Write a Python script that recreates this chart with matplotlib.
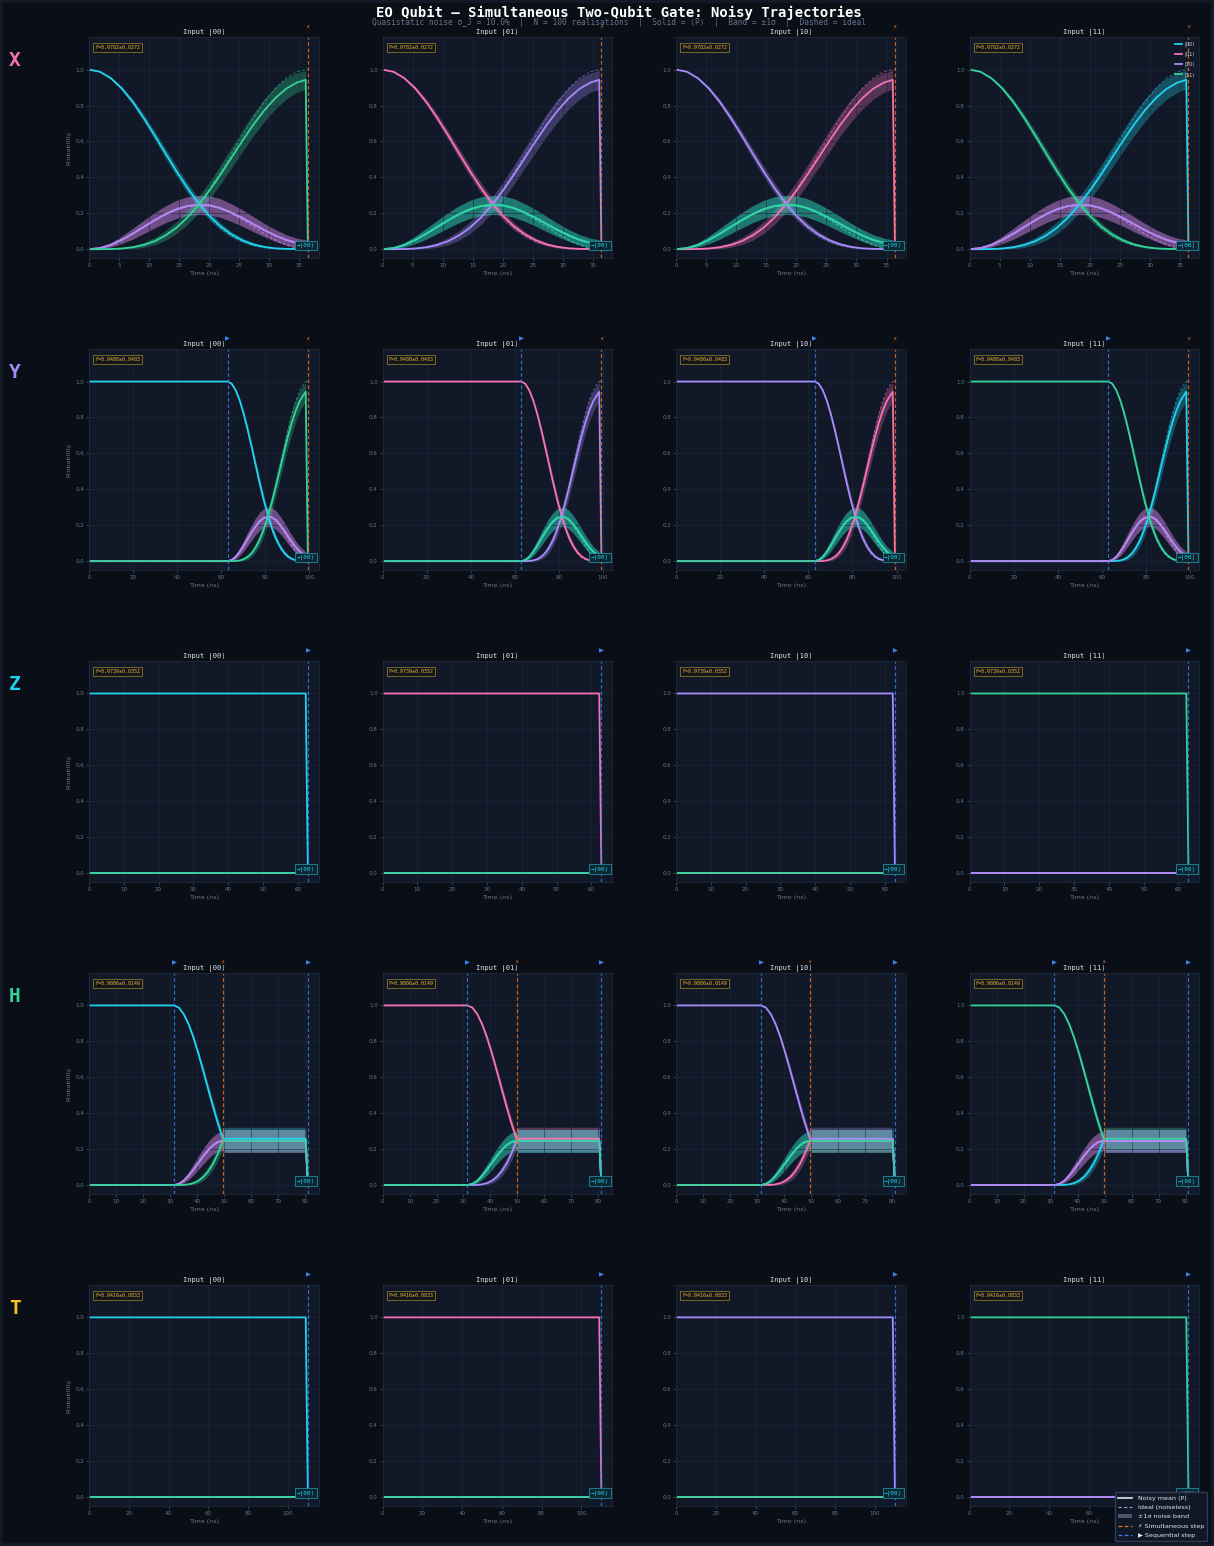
import matplotlib
matplotlib.use("Agg")
import matplotlib.pyplot as plt
import matplotlib.transforms as mtransforms
from matplotlib.lines import Line2D
from matplotlib.patches import Patch

MONO = ["DejaVu Sans Mono", "DejaVu Sans", "Noto Sans"]
SANS = ["DejaVu Sans", "Noto Sans"]
plt.rcParams["font.family"] = SANS

FIG_BG = "#0a0e17"
AX_BG = "#111827"
GRID = "#1e293b"
MUTED = "#64748b"
SIM_COLOR = "#f97316"
SEQ_COLOR = "#3b82f6"

# ---- basis states and gates -------------------------------------------------
STATES = ["00", "01", "10", "11"]
STATE_COLORS = ["#22d3ee", "#f472b6", "#a78bfa", "#34d399"]

GATES = ["X", "Y", "Z", "H", "T"]
GATE_COLORS = ["#f472b6", "#a78bfa", "#22d3ee", "#34d399", "#fbbf24"]
FID_MEAN = [0.9782, 0.9480, 0.9739, 0.9806, 0.9416]
FID_STD = [0.0272, 0.0483, 0.0352, 0.0149, 0.0833]

# pulse schedules: (step kind, duration ns, fraction of a pi rotation, sigma of held populations)
X_STEPS = [("sim", 36.4, 1.0, 0.0)]
Y_STEPS = [("seq", 62.9, 0.0, 0.0), ("sim", 36.4, 1.0, 0.0)]
Z_STEPS = [("seq", 62.9, 0.0, 0.0)]
H_STEPS = [("seq", 31.45, 0.0, 0.0), ("sim", 18.2, 0.5, 0.0), ("seq", 31.45, 0.0, 0.064)]
T_STEPS = [("seq", 110.1, 0.0, 0.0)]
GATE_STEPS = [X_STEPS, Y_STEPS, Z_STEPS, H_STEPS, T_STEPS]

# simultaneous rotation: populations vs. fraction of the pi rotation
ROT_FRAC = [0.00, 0.05, 0.10, 0.15, 0.20, 0.25, 0.30, 0.35, 0.40, 0.45, 0.50,
            0.55, 0.60, 0.65, 0.70, 0.75, 0.80, 0.85, 0.90, 0.95, 1.00]
# input state kept
STAY_IDEAL = [1.000, 0.988, 0.952, 0.894, 0.818, 0.729, 0.630, 0.529, 0.428, 0.334, 0.250,
              0.178, 0.119, 0.075, 0.042, 0.021, 0.009, 0.003, 0.001, 0.000, 0.000]
STAY_MEAN = [1.000, 0.988, 0.952, 0.895, 0.820, 0.731, 0.634, 0.533, 0.434, 0.341, 0.258,
             0.186, 0.128, 0.083, 0.050, 0.027, 0.013, 0.005, 0.002, 0.001, 0.001]
STAY_STD = [0.000, 0.002, 0.006, 0.011, 0.016, 0.021, 0.025, 0.028, 0.029, 0.029, 0.027,
            0.024, 0.020, 0.016, 0.012, 0.009, 0.006, 0.004, 0.002, 0.001, 0.001]
# one qubit flipped
ONE_IDEAL = [0.000, 0.006, 0.024, 0.052, 0.086, 0.125, 0.164, 0.198, 0.226, 0.244, 0.250,
             0.244, 0.226, 0.198, 0.164, 0.125, 0.086, 0.052, 0.024, 0.006, 0.000]
ONE_MEAN = [0.000, 0.006, 0.024, 0.052, 0.086, 0.124, 0.161, 0.195, 0.222, 0.240, 0.246,
            0.244, 0.229, 0.204, 0.174, 0.140, 0.107, 0.077, 0.052, 0.035, 0.028]
ONE_STD = [0.000, 0.004, 0.012, 0.021, 0.030, 0.037, 0.043, 0.047, 0.050, 0.052, 0.053,
           0.053, 0.052, 0.049, 0.046, 0.042, 0.037, 0.033, 0.029, 0.026, 0.024]
# both qubits flipped
BOTH_IDEAL = [0.000, 0.000, 0.001, 0.003, 0.009, 0.021, 0.042, 0.075, 0.119, 0.178, 0.250,
              0.334, 0.428, 0.529, 0.630, 0.729, 0.818, 0.894, 0.952, 0.988, 1.000]
BOTH_MEAN = [0.000, 0.000, 0.001, 0.004, 0.011, 0.024, 0.045, 0.077, 0.120, 0.177, 0.246,
             0.326, 0.414, 0.508, 0.602, 0.692, 0.772, 0.840, 0.893, 0.928, 0.943]
BOTH_STD = [0.000, 0.000, 0.002, 0.005, 0.009, 0.014, 0.020, 0.027, 0.033, 0.039, 0.044,
            0.049, 0.053, 0.057, 0.060, 0.062, 0.063, 0.061, 0.058, 0.054, 0.052]

FINAL_LABEL = "→|00⟩"
LAST_SAMPLE_FRAC = 0.01   # spacing of the solver's last time sample

PROFILE_IDEAL = [STAY_IDEAL, ONE_IDEAL, BOTH_IDEAL]
PROFILE_MEAN = [STAY_MEAN, ONE_MEAN, BOTH_MEAN]
PROFILE_STD = [STAY_STD, ONE_STD, BOTH_STD]


def n_flips(a, b):
    return sum(x != y for x, y in zip(a, b))


def build_trajectory(steps, inp):
    times = []
    mean = {s: [] for s in STATES}
    std = {s: [] for s in STATES}
    ideal = {s: [] for s in STATES}
    cur_m = {s: (1.0 if s == inp else 0.0) for s in STATES}
    cur_i = dict(cur_m)
    t0 = 0.0
    step_ends = []
    for kind, dur, frac, sd in steps:
        if kind == "seq":
            for t in (t0, t0 + dur):
                times.append(t)
                for s in STATES:
                    mean[s].append(cur_m[s])
                    std[s].append(sd)
                    ideal[s].append(cur_i[s])
        else:
            idx = [k for k, f in enumerate(ROT_FRAC) if f <= frac + 1e-9]
            for k in idx:
                times.append(t0 + dur * ROT_FRAC[k] / frac)
                for s in STATES:
                    c = n_flips(inp, s)
                    mean[s].append(PROFILE_MEAN[c][k])
                    std[s].append(PROFILE_STD[c][k])
                    ideal[s].append(PROFILE_IDEAL[c][k])
            for s in STATES:
                cur_m[s] = mean[s][-1]
                cur_i[s] = ideal[s][-1]
        t0 += dur
        step_ends.append((kind, t0))
    t_end = t0
    times[-1] = t_end * (1 - LAST_SAMPLE_FRAC)
    return times, mean, std, ideal, step_ends, t_end


fig = plt.figure(figsize=(12.14, 15.46), dpi=100, facecolor=FIG_BG)
fig.patch.set_edgecolor("#131926")
fig.patch.set_linewidth(4)
gs = fig.add_gridspec(5, 4, left=0.0733, right=0.9880, top=0.9759, bottom=0.0259,
                      wspace=0.277, hspace=0.412)

for r, gate in enumerate(GATES):
    for c, inp in enumerate(STATES):
        ax = fig.add_subplot(gs[r, c])
        ax.set_facecolor(AX_BG)
        times, mean, std, ideal, step_ends, t_end = build_trajectory(GATE_STEPS[r], inp)

        for s, col in zip(STATES, STATE_COLORS):
            lo = [m - d for m, d in zip(mean[s], std[s])]
            hi = [m + d for m, d in zip(mean[s], std[s])]
            ax.fill_between(times, lo, hi, color=col, alpha=0.3, lw=0)
        for s, col in zip(STATES, STATE_COLORS):
            ax.plot(times + [t_end], ideal[s] + [ideal[s][-1]], color=col, lw=0.7,
                    ls=(0, (3, 2)), alpha=0.55)
        for s, col in zip(STATES, STATE_COLORS):
            ax.plot(times + [t_end], mean[s] + [0.0], color=col, lw=1.3,
                    label=f"|{s}⟩")

        trans = mtransforms.blended_transform_factory(ax.transData, ax.transAxes)
        for kind, t in step_ends:
            colr = SIM_COLOR if kind == "sim" else SEQ_COLOR
            ax.axvline(t, color=colr, ls=(0, (3, 2)), lw=0.9, alpha=0.8)
            ax.text(t, 1.035, "⚡" if kind == "sim" else "▶", transform=trans,
                    ha="center", va="bottom", fontsize=4.5, color=colr,
                    family=SANS, clip_on=False)

        ax.set_xlim(0, t_end * 1.05)
        ax.set_ylim(-0.05, 1.18)
        ax.set_yticks([0.0, 0.2, 0.4, 0.6, 0.8, 1.0])
        ax.grid(True, color=GRID, lw=0.5, alpha=0.8)
        for sp in ax.spines.values():
            sp.set_color("#1f2937")
            sp.set_linewidth(0.6)
        ax.tick_params(colors="#475569", labelcolor=MUTED, labelsize=4,
                       length=2, width=0.5, pad=1.5)
        ax.set_xlabel("Time (ns)", fontsize=4.6, color=MUTED, labelpad=2)
        if c == 0:
            ax.set_ylabel("Probability", fontsize=4.6, color=MUTED, labelpad=3)
        ax.set_title(f"Input |{inp}⟩", fontsize=5, color="#e2e8f0",
                     family=MONO, pad=2.5)

        ax.text(0.026, 0.965, f"F={FID_MEAN[r]:.4f}±{FID_STD[r]:.4f}",
                transform=ax.transAxes, ha="left", va="top", fontsize=3.6,
                color="#e3b341", family=MONO,
                bbox=dict(boxstyle="square,pad=0.35", fc="#14161a",
                          ec="#a3862a", lw=0.5))
        ax.text(0.985, 0.045, FINAL_LABEL, transform=ax.transAxes, ha="right",
                va="bottom", fontsize=4.3, color="#22d3ee", family=MONO,
                bbox=dict(boxstyle="square,pad=0.3", fc="#0f2530",
                          ec="#1b8ea3", lw=0.6))

        if r == 0 and c == 3:
            ax.legend(loc="upper right", fontsize=3.8, frameon=False,
                      labelcolor="#cbd5e1", handlelength=1.4, handletextpad=0.5,
                      borderaxespad=0.4, labelspacing=0.9)

        if c == 0:
            bb = ax.get_position()
            fig.text(0.0124, bb.y1 - 23 / 1546, gate, ha="center", va="center",
                     fontsize=14, fontweight="bold", color=GATE_COLORS[r],
                     family=MONO)

fig.text(0.51, 0.9915, "EO Qubit — Simultaneous Two-Qubit Gate: Noisy Trajectories",
         ha="center", va="center", fontsize=10, fontweight="bold",
         color="#ffffff", family=MONO)
fig.text(0.51, 0.9855,
         "Quasistatic noise σ_J = 10.0%  |  N = 100 realisations  |  Solid = ⟨P⟩"
         "  |  Band = ±1σ  |  Dashed = ideal",
         ha="center", va="center", fontsize=5.7, color=MUTED, family=MONO)

handles = [
    Line2D([], [], color="#cbd5e1", lw=1.3),
    Line2D([], [], color="#94a3b8", lw=0.8, ls=(0, (3, 2))),
    Patch(facecolor="#94a3b8", alpha=0.45, lw=0),
    Line2D([], [], color=SIM_COLOR, lw=0.9, ls=(0, (3, 2))),
    Line2D([], [], color=SEQ_COLOR, lw=0.9, ls=(0, (3, 2))),
]
labels = ["Noisy mean ⟨P⟩", "Ideal (noiseless)", "±1σ noise band",
          "⚡ Simultaneous step", "▶ Sequential step"]
fig.legend(handles, labels, loc="lower right", bbox_to_anchor=(0.997, 0.001),
           fontsize=4.6, labelcolor="#e2e8f0", facecolor=AX_BG,
           edgecolor="#334155", framealpha=0.95, handlelength=2.2,
           borderpad=0.5, labelspacing=0.6)

fig.savefig("out.png", dpi=100, facecolor=FIG_BG, edgecolor=fig.patch.get_edgecolor())
